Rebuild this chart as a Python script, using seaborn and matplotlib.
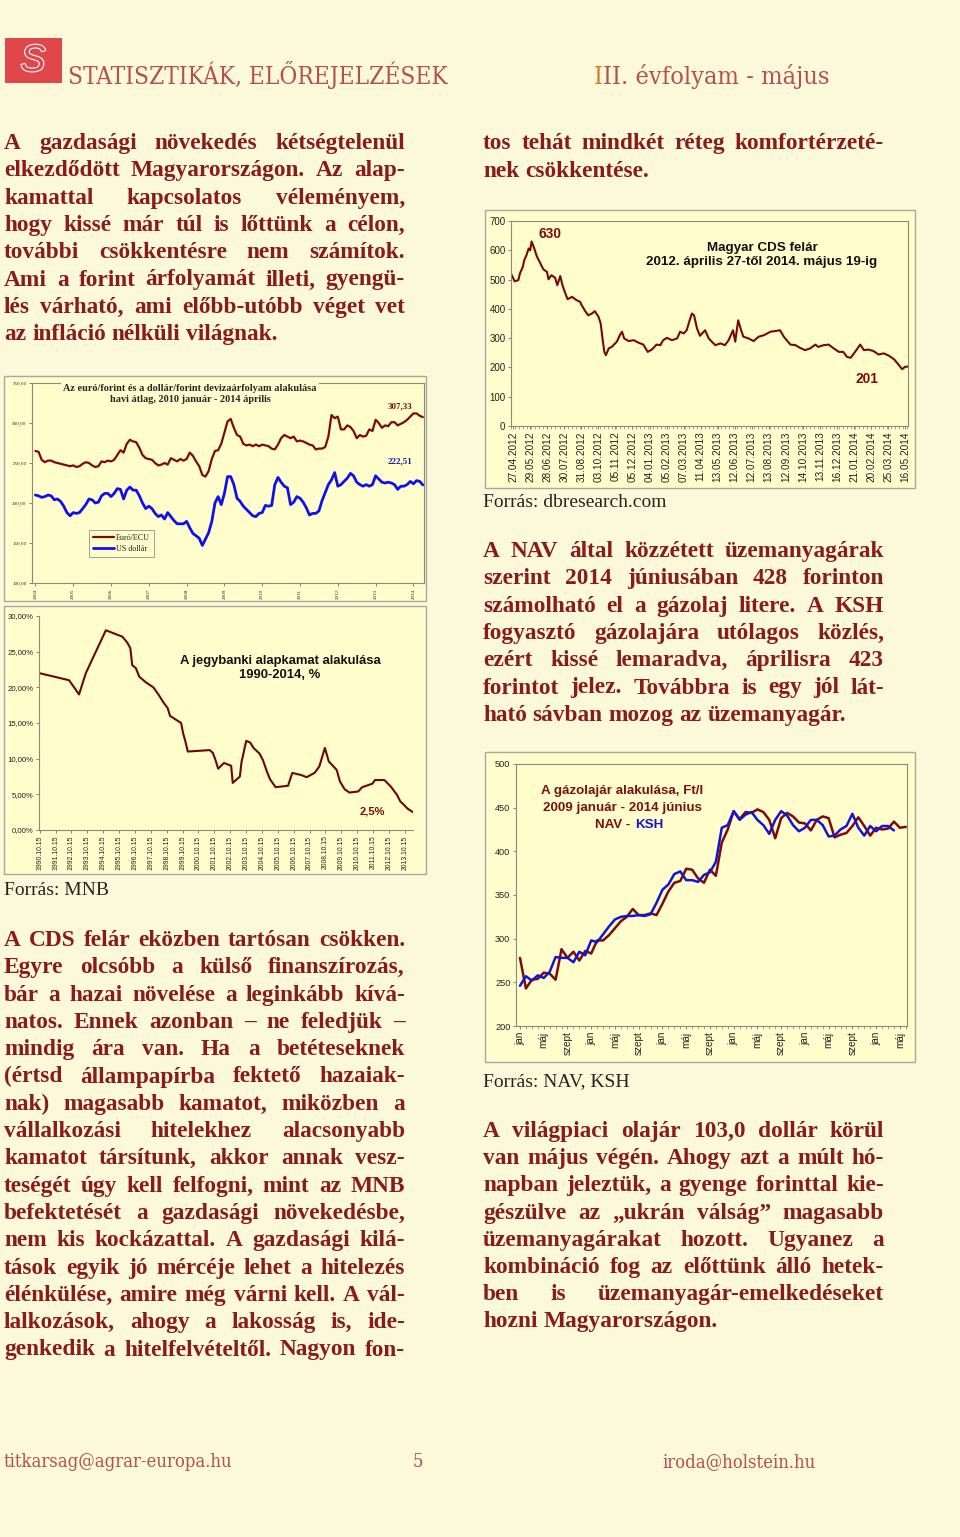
import matplotlib
matplotlib.use("Agg")
import matplotlib.pyplot as plt
import matplotlib.patheffects as pe
from matplotlib import font_manager
from matplotlib.patches import Rectangle
from matplotlib.ticker import MultipleLocator
import numpy as np
import seaborn as sns

sns.set_theme(style="white")
SERIF = ["Liberation Serif", "DejaVu Serif"]
SANS = ["Liberation Sans", "DejaVu Sans"]
plt.rcParams["font.family"] = SERIF

W, H = 960, 1537
PAGE_BG = "#FBF9DA"
CHART_BG = "#FFFDCC"
FRAME = "#A9A89C"
MAROON = "#7E0B0B"
BLUE = "#1414D4"
TEXT_RED = "#8A1B1B"
HEAD_RED = "#B5504C"
INK = "#2A2222"

# --- data -----------------------------------------------------------------
# euro/forint and dollar/forint, monthly average, 2004 Jan - 2014 Apr
EUR_HUF = [265, 264, 254, 251, 253, 253, 251, 250, 249, 248, 247, 246,
           247, 245, 246, 249, 251, 250, 247, 245, 246, 252, 251, 253,
           252, 254, 260, 266, 263, 274, 279, 277, 276, 269, 260, 256,
           255, 254, 250, 247, 248, 250, 248, 256, 254, 252, 255, 253,
           255, 263, 259, 252, 246, 235, 233, 240, 255, 265, 266, 274,
           288, 302, 305, 294, 285, 283, 274, 272, 273, 271, 273, 271,
           273, 272, 271, 268, 267, 273, 281, 285, 283, 281, 283, 277,
           278, 277, 275, 273, 272, 267, 268, 268, 270, 283, 310, 306,
           308, 292, 292, 297, 295, 290, 281, 285, 283, 284, 292, 290,
           304, 300, 294, 297, 296, 301, 301, 297, 299, 301, 304, 308,
           312, 312, 309, 307.33]
USD_HUF = [210, 209, 207, 208, 210, 209, 204, 205, 202, 196, 188, 184,
           188, 187, 188, 193, 198, 205, 204, 200, 201, 209, 212, 212,
           208, 212, 218, 217, 205, 216, 220, 216, 216, 209, 200, 193,
           196, 193, 187, 183, 185, 180, 188, 183, 178, 174, 174, 174,
           177, 169, 162, 159, 156, 147, 155, 163, 177, 200, 208, 198,
           212, 233, 233, 223, 206, 202, 196, 192, 188, 184, 183, 187,
           188, 197, 196, 197, 223, 232, 226, 221, 219, 198, 201, 208,
           206, 201, 194, 185, 187, 187, 190, 203, 213, 223, 229, 238,
           221, 223, 227, 231, 237, 234, 226, 223, 221, 223, 221, 223,
           234, 230, 226, 225, 226, 225, 223, 217, 221, 221, 223, 227,
           224, 228, 227, 222.51]
EX_YEARS = list(range(2004, 2015))

# central bank base rate, 1990-2014
RATE_YEAR = [1990.75, 1992.64, 1992.96, 1993.27, 1993.70, 1994.96, 1996.00,
             1996.30, 1996.50, 1996.62, 1996.85, 1997.06, 1997.48, 1997.95,
             1998.30, 1998.58, 1998.85, 1999.00, 1999.70, 1999.82, 1999.97,
             2000.12, 2001.50, 2001.70, 2001.88, 2002.03, 2002.40, 2002.85,
             2002.95, 2003.40, 2003.50, 2003.80, 2004.05, 2004.26, 2004.64,
             2004.85, 2005.10, 2005.30, 2005.65, 2006.43, 2006.70, 2007.27,
             2007.60, 2008.10, 2008.40, 2008.75, 2009.00, 2009.30, 2009.50,
             2009.70, 2010.00, 2010.30, 2010.85, 2011.10, 2011.75, 2011.90,
             2012.50, 2012.90, 2013.30, 2013.50, 2013.70, 2013.95, 2014.30]
RATE_PCT = [22.0, 21.0, 20.0, 19.0, 22.0, 28.0, 27.1,
            26.3, 25.5, 23.1, 22.7, 21.5, 20.7, 20.0,
            18.9, 17.9, 17.1, 16.0, 15.0, 13.6, 12.4,
            11.0, 11.2, 10.8, 9.7, 8.6, 9.4, 9.0,
            6.6, 7.5, 9.5, 12.5, 12.25, 11.5, 10.7,
            9.8, 8.2, 7.1, 6.0, 6.2, 8.0, 7.7,
            7.4, 8.0, 8.9, 11.5, 9.6, 8.9, 8.4,
            6.8, 5.7, 5.25, 5.4, 6.0, 6.5, 7.0,
            7.0, 6.1, 4.9, 4.0, 3.6, 3.0, 2.5]
RATE_TICK_YEARS = list(range(1990, 2014))

# Hungarian CDS spread, trading day index from 27.04.2012
CDS_DAY = [0, 3, 5, 10, 12, 16, 18, 21, 24, 26, 28, 31, 35, 39, 44, 49, 51,
           55, 60, 63, 67, 70, 74, 77, 83, 89, 94, 96, 101, 105, 110, 114,
           119, 122, 125, 127, 129, 133, 137, 144, 148, 151, 154, 160, 167,
           173, 180, 186, 192, 198, 203, 207, 212, 219, 226, 230, 235, 239,
           243, 246, 249, 253, 257, 264, 269, 273, 278, 285, 291, 296, 302,
           305, 309, 313, 316, 323, 330, 337, 344, 353, 359, 366, 371, 375,
           380, 387, 393, 400, 407, 414, 418, 425, 432, 439, 446, 452, 457,
           462, 468, 475, 480, 486, 493, 500, 507, 514, 521, 527, 532, 536,
           540]
CDS_VAL = [520, 505, 494, 498, 520, 543, 566, 583, 606, 600, 630, 611, 580,
           560, 535, 526, 501, 515, 506, 481, 512, 481, 452, 433, 441, 430,
           424, 413, 392, 378, 384, 392, 373, 350, 288, 253, 242, 265, 270,
           288, 310, 322, 299, 290, 293, 285, 278, 253, 262, 278, 276, 293,
           301, 293, 299, 322, 316, 327, 361, 384, 378, 333, 308, 327, 299,
           288, 276, 282, 276, 293, 327, 288, 361, 327, 305, 299, 290, 305,
           310, 322, 324, 327, 305, 293, 278, 276, 267, 259, 265, 278, 270,
           276, 278, 265, 253, 253, 236, 233, 253, 278, 259, 261, 256, 244,
           248, 240, 228, 210, 194, 202, 203]
CDS_DATES = ["27.04.2012", "29.05.2012", "28.06.2012", "30.07.2012",
             "31.08.2012", "03.10.2012", "05.11.2012", "05.12.2012",
             "04.01.2013", "05.02.2013", "07.03.2013", "11.04.2013",
             "13.05.2013", "12.06.2013", "12.07.2013", "13.08.2013",
             "12.09.2013", "14.10.2013", "13.11.2013", "16.12.2013",
             "21.01.2014", "20.02.2014", "25.03.2014", "16.05.2014"]

# diesel price, Ft/l, monthly from 2009 Jan
NAV = [278, 243, 253, 254, 261, 260, 253, 288, 278, 285, 275, 286,
       283, 298, 298, 304, 312, 320, 325, 334, 327, 327, 329, 327,
       340, 354, 364, 366, 380, 379, 369, 364, 379, 372, 410, 425,
       446, 437, 445, 444, 448, 445, 436, 415, 438, 444, 440, 433,
       432, 424, 436, 440, 438, 416, 419, 421, 429, 439, 429, 418,
       427, 425, 426, 434, 427, 428]
KSH = [246, 257, 252, 258, 255, 262, 279, 278, 278, 273, 285, 281,
       298, 296, 305, 314, 322, 325, 326, 326, 327, 326, 328, 341,
       356, 362, 374, 377, 367, 367, 365, 373, 376, 388, 427, 430,
       446, 436, 442, 445, 436, 430, 420, 436, 446, 441, 430, 423,
       427, 436, 436, 430, 417, 418, 425, 429, 443, 427, 418, 429,
       423, 429, 429, 424]
FUEL_TICKS = ["jan", "máj", "szept"] * 5 + ["jan", "máj"]

LEFT_TOP = ["A gazdasági növekedés kétségtelenül",
            "elkezdődött Magyarországon. Az alap-",
            "kamattal kapcsolatos véleményem,",
            "hogy kissé már túl is lőttünk a célon,",
            "további csökkentésre nem számítok.",
            "Ami a forint árfolyamát illeti, gyengü-",
            "lés várható, ami előbb-utóbb véget vet",
            "az infláció nélküli világnak."]
LEFT_BOTTOM = ["A CDS felár eközben tartósan csökken.",
               "Egyre olcsóbb a külső finanszírozás,",
               "bár a hazai növelése a leginkább kívá-",
               "natos. Ennek azonban – ne feledjük –",
               "mindig ára van. Ha a betéteseknek",
               "(értsd állampapírba fektető hazaiak-",
               "nak) magasabb kamatot, miközben a",
               "vállalkozási hitelekhez alacsonyabb",
               "kamatot társítunk, akkor annak vesz-",
               "teségét úgy kell felfogni, mint az MNB",
               "befektetését a gazdasági növekedésbe,",
               "nem kis kockázattal. A gazdasági kilá-",
               "tások egyik jó mércéje lehet a hitelezés",
               "élénkülése, amire még várni kell. A vál-",
               "lalkozások, ahogy a lakosság is, ide-",
               "genkedik a hitelfelvételtől. Nagyon fon-"]
RIGHT_TOP = ["tos tehát mindkét réteg komfortérzeté-",
             "nek csökkentése."]
RIGHT_MID = ["A NAV által közzétett üzemanyagárak",
             "szerint 2014 júniusában 428 forinton",
             "számolható el a gázolaj litere. A KSH",
             "fogyasztó gázolajára utólagos közlés,",
             "ezért kissé lemaradva, áprilisra 423",
             "forintot jelez. Továbbra is egy jól lát-",
             "ható sávban mozog az üzemanyagár."]
RIGHT_BOTTOM = ["A világpiaci olajár 103,0 dollár körül",
                "van május végén. Ahogy azt a múlt hó-",
                "napban jeleztük, a gyenge forinttal kie-",
                "gészülve az „ukrán válság” magasabb",
                "üzemanyagárakat hozott. Ugyanez a",
                "kombináció fog az előttünk álló hetek-",
                "ben is üzemanyagár-emelkedéseket",
                "hozni Magyarországon."]

# --- page -----------------------------------------------------------------
fig = plt.figure(figsize=(W / 100, H / 100), dpi=100, facecolor=PAGE_BG)
page = fig.add_axes([0, 0, 1, 1], zorder=0)
page.set_xlim(0, W)
page.set_ylim(H, 0)
page.axis("off")
rend = fig.canvas.get_renderer()


def px_axes(x0, y0, x1, y1):
    return fig.add_axes([x0 / W, 1 - y1 / H, (x1 - x0) / W, (y1 - y0) / H], zorder=2)


def frame(x0, y0, x1, y1):
    page.add_patch(Rectangle((x0, y0), x1 - x0, y1 - y0, facecolor=CHART_BG,
                             edgecolor=FRAME, lw=1.0))


def style(ax, spines=("left", "bottom", "top", "right")):
    ax.set_facecolor("none")
    for s in ax.spines:
        ax.spines[s].set_visible(s in spines)
        ax.spines[s].set_color("#8A8A80")
        ax.spines[s].set_linewidth(0.8)
    ax.tick_params(bottom=True, left=True, direction="out", length=2.5,
                   width=0.6, color="#707070", pad=1.5, labelcolor="#222222")
    ax.tick_params(which="minor", bottom=True, length=1.8, width=0.5, color="#808080")
    ax.set_xlabel("")
    ax.set_ylabel("")
    ax.grid(False)


def width_of(t):
    return t.get_window_extent(rend).width


def justify(lines, x0, x1, base0, step, size=16.8, color=TEXT_RED, last_free=True):
    em = size * 100 / 72
    for k, line in enumerate(lines):
        y = base0 + k * step
        words = line.split()
        arts = [page.text(0, y, w, fontsize=size, fontweight="bold", color=color,
                          va="baseline", ha="left") for w in words]
        widths = [width_of(a) for a in arts]
        free = last_free and k == len(lines) - 1
        n = len(words)
        if free or n < 2:
            gap = 0.25 * em
        else:
            room = x1 - x0 - 0.15 * em * (n - 1)
            if sum(widths) > room:
                shrink = room / sum(widths)
                for a in arts:
                    a.set_fontsize(size * shrink)
                widths = [width_of(a) for a in arts]
            gap = (x1 - x0 - sum(widths)) / (n - 1)
        x = x0
        for a, w in zip(arts, widths):
            a.set_x(x)
            x += w + gap


def fit_size(s, width, **kw):
    t = page.text(0, 0, s, fontsize=20, **kw)
    size = 20 * width / width_of(t)
    t.remove()
    return size


# header
cond = [f for f in font_manager.fontManager.ttflist
        if f.name == "DejaVu Serif" and "condensed" in str(f.stretch)]
head_kw = dict(family="DejaVu Serif", fontstretch="condensed") if cond else dict(family=SERIF)
page.add_patch(Rectangle((5, 38), 57, 45, facecolor="#E0474A", edgecolor="none"))
page.text(33, 61, "S", color="#E0474A", fontsize=27, style="italic", family=SANS,
          ha="center", va="center",
          path_effects=[pe.withStroke(linewidth=1.6, foreground="white")])
size = fit_size("STATISZTIKÁK, ELŐREJELZÉSEK", 378, **head_kw)
page.text(68, 84, "STATISZTIKÁK, ELŐREJELZÉSEK", fontsize=size, color=HEAD_RED,
          va="baseline", ha="left", **head_kw)
size = fit_size("III. évfolyam - május", 236, **head_kw)
first = page.text(594, 84, "I", fontsize=size, color="#D9782A", va="baseline",
                  ha="left", **head_kw)
page.text(594 + width_of(first), 84, "II. évfolyam - május", fontsize=size,
          color=HEAD_RED, va="baseline", ha="left", **head_kw)

# body text
justify(LEFT_TOP, 4, 405, 149, 27.3)
justify(LEFT_BOTTOM, 4, 405, 946, 27.3, last_free=False)
justify(RIGHT_TOP, 483, 884, 149, 27.6)
justify(RIGHT_MID, 483, 884, 557, 27.3)
justify(RIGHT_BOTTOM, 483, 884, 1137, 27.2)

for x, y, s in [(4, 895, "Forrás: MNB"), (483, 507, "Forrás: dbresearch.com"),
                (483, 1086, "Forrás: NAV, KSH")]:
    page.text(x, y, s, fontsize=14, color=INK, va="baseline", ha="left")

# footer
for x, s in [(4, "titkarsag@agrar-europa.hu"), (413, "5"), (662, "iroda@holstein.hu")]:
    page.text(x, 1467, s, fontsize=13.2, color=HEAD_RED, va="baseline", ha="left",
              **head_kw)

# --- exchange rate chart ----------------------------------------------------
frame(4, 376, 426, 601)
ex = px_axes(32, 383, 424, 583)
ex_x = 2004 + np.arange(len(EUR_HUF)) / 12
sns.lineplot(x=ex_x, y=EUR_HUF, ax=ex, color=MAROON, lw=1.6, label="Euró/ECU")
sns.lineplot(x=ex_x, y=USD_HUF, ax=ex, color="#1010E8", lw=2.0, label="US dollár")
style(ex)
ex.set_xlim(2003.91, 2014.28)
ex.set_ylim(100, 350)
yv = list(range(100, 351, 50))
ex.set_yticks(yv, labels=[f"{v:.2f}".replace(".", ",") for v in yv], fontsize=3.6)
ex.set_xticks(EX_YEARS, labels=[str(y) for y in EX_YEARS], rotation=90, fontsize=3.6)
leg = ex.legend(loc="upper left", bbox_to_anchor=(0.135, 0.285), fontsize=5.8,
                frameon=True, fancybox=False, edgecolor="#909090", facecolor=CHART_BG,
                framealpha=1, handlelength=2.6, borderpad=0.5, labelspacing=0.35,
                handletextpad=0.2)
leg.get_frame().set_linewidth(0.6)
ex.text(190, 394, "Az euró/forint és a dollár/forint devizaárfolyam alakulása\n"
        "havi átlag, 2010 január - 2014 április", transform=page.transData,
        ha="center", va="center", fontsize=7.4, fontweight="bold", linespacing=1.2,
        bbox=dict(facecolor=CHART_BG, edgecolor="none", pad=1.5), zorder=5)
ex.text(400, 406, "307,33", transform=page.transData, ha="center", va="center",
        fontsize=6.5, fontweight="bold", color=MAROON)
ex.text(400, 461, "222,51", transform=page.transData, ha="center", va="center",
        fontsize=6.5, fontweight="bold", color="#1A1AB0")

# --- base rate chart ------------------------------------------------------
frame(4, 606, 426, 874)
br = px_axes(39, 616, 413, 830)
sns.lineplot(x=RATE_YEAR, y=RATE_PCT, ax=br, color="#6A0808", lw=1.5, estimator=None)
style(br, spines=("left", "bottom"))
br.set_xlim(1990.75, 2014.3)
br.set_ylim(0, 30)
yv = list(range(0, 31, 5))
br.set_yticks(yv, labels=[f"{v:.2f}%".replace(".", ",") for v in yv], fontsize=5.6,
              family=SANS)
br.set_xticks([y + 0.79 for y in RATE_TICK_YEARS],
              labels=[f"{y}.10.15" for y in RATE_TICK_YEARS], rotation=90,
              fontsize=4.9, family=SANS)
br.text(280, 668, "A jegybanki alapkamat alakulása\n1990-2014, %",
        transform=page.transData, ha="center", va="center", fontsize=9.4,
        fontweight="bold", family=SANS, color="#111111", linespacing=1.2)
br.text(372, 812, "2,5%", transform=page.transData, ha="center", va="center",
        fontsize=8, fontweight="bold", family=SANS, color=MAROON)

# --- CDS chart ------------------------------------------------------------
frame(485, 210, 915, 488)
cds = px_axes(511, 221, 908, 426)
sns.lineplot(x=CDS_DAY, y=CDS_VAL, ax=cds, color="#760A0A", lw=1.5, estimator=None)
style(cds)
cds.set_xlim(0, 540)
cds.set_ylim(0, 700)
yv = list(range(0, 701, 100))
cds.set_yticks(yv, labels=[str(v) for v in yv], fontsize=7, family=SANS)
cds.set_xticks(np.linspace(3, 536, len(CDS_DATES)), labels=CDS_DATES, rotation=90,
               fontsize=7.2, family=SANS)
cds.xaxis.set_minor_locator(MultipleLocator(5.5))
cds.text(762, 255, "Magyar CDS felár\n2012. április 27-től 2014. május 19-ig",
         transform=page.transData, ha="center", va="center", fontsize=9.6,
         fontweight="bold", family=SANS, color="#111111", linespacing=1.25)
cds.text(550, 234, "630", transform=page.transData, ha="center", va="center",
         fontsize=9.9, fontweight="bold", family=SANS, color=MAROON)
cds.text(867, 379, "201", transform=page.transData, ha="center", va="center",
         fontsize=9.9, fontweight="bold", family=SANS, color=MAROON)

# --- diesel price chart ---------------------------------------------------
frame(485, 752, 915, 1062)
fu = px_axes(516, 764, 907, 1026)
sns.lineplot(x=np.arange(len(NAV)), y=NAV, ax=fu, color=MAROON, lw=1.8)
sns.lineplot(x=np.arange(len(KSH)), y=KSH, ax=fu, color=BLUE, lw=1.8)
style(fu)
fu.set_xlim(-0.67, 65.2)
fu.set_ylim(200, 500)
yv = list(range(200, 501, 50))
fu.set_yticks(yv, labels=[str(v) for v in yv], fontsize=6.6, family=SANS)
fu.set_xticks(range(0, 4 * len(FUEL_TICKS), 4), labels=FUEL_TICKS, rotation=90,
              fontsize=7.2, family=SANS)
fu.xaxis.set_minor_locator(MultipleLocator(1))
for y, s in [(791, "A gázolajár alakulása, Ft/l"), (808, "2009 január - 2014 június")]:
    fu.text(622, y, s, transform=page.transData, ha="center", va="center",
            fontsize=9.6, fontweight="bold", family=SANS, color="#7A1212")
fu.text(630, 825, "NAV -", transform=page.transData, ha="right", va="center",
        fontsize=9.6, fontweight="bold", family=SANS, color="#7A1212")
fu.text(635, 825, "KSH", transform=page.transData, ha="left", va="center",
        fontsize=9.6, fontweight="bold", family=SANS, color=BLUE)

fig.savefig("out.png", dpi=100, facecolor=PAGE_BG)
